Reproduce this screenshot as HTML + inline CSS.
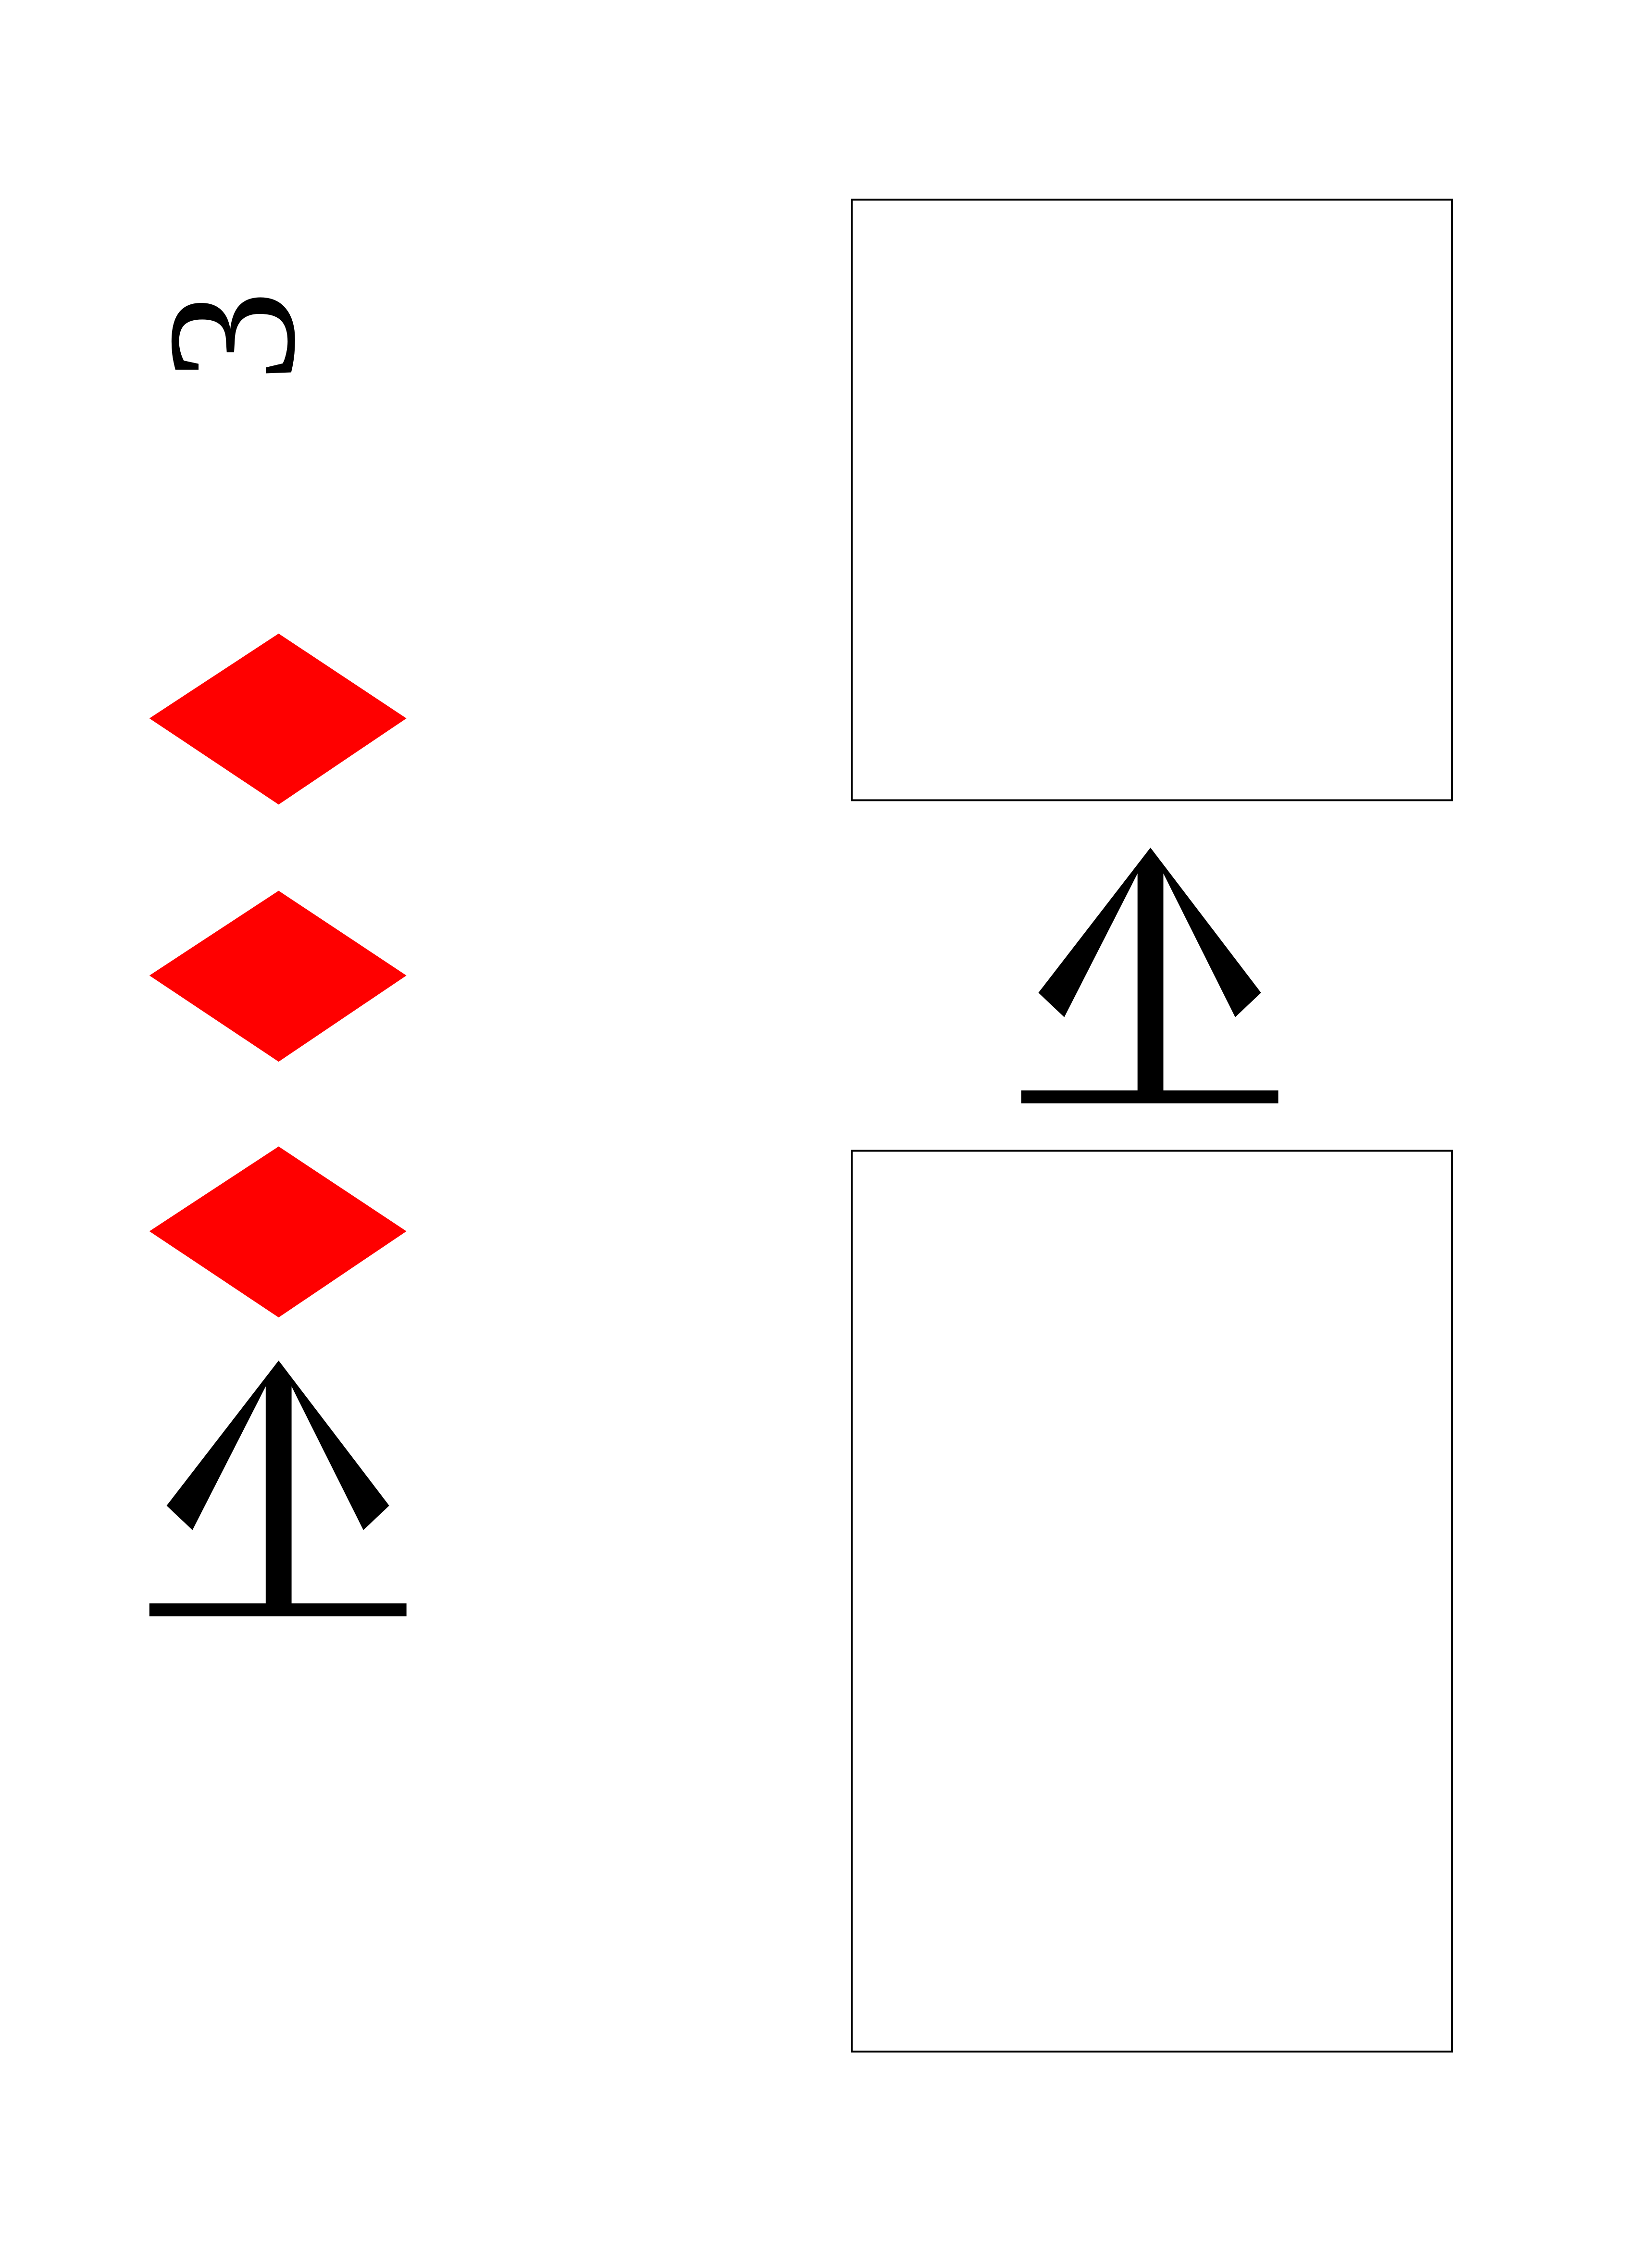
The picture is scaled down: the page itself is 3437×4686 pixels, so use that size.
<!DOCTYPE html>
<html><head><meta charset="utf-8"><style>
html,body{margin:0;padding:0;background:#fff;}
svg{display:block;}
</style></head><body>
<svg width="3437" height="4686" viewBox="0 0 1150.2 1568.2" preserveAspectRatio="none" xmlns="http://www.w3.org/2000/svg">
<rect x="0" y="0" width="1150.2" height="1568.2" fill="#fff"/>
<text x="0" y="0" transform="translate(161,234) rotate(-90)" text-anchor="middle" dominant-baseline="central" fill="#000" font-family="'Liberation Serif', 'DejaVu Serif', 'Noto Serif CJK SC', serif" font-size="128" style="font-family:'Liberation Serif','DejaVu Serif','Noto Serif CJK SC',serif;">3</text>
<g fill="#ff0000">
<polygon points="194,441 283,500 194,560 104,500"/>
<polygon points="194,620 283,679 194,739 104,679"/>
<polygon points="194,798 283,857 194,917 104,857"/>
</g>
<polygon fill="#000" points="194,947 271,1048 253,1065 203,965 203,1116 283,1116 283,1125 104,1125 104,1116 185,1116 185,965 134,1065 116,1048"/>
<polygon fill="#000" transform="translate(607,-357)" points="194,947 271,1048 253,1065 203,965 203,1116 283,1116 283,1125 104,1125 104,1116 185,1116 185,965 134,1065 116,1048"/>
<rect x="593" y="139" width="418" height="418" fill="none" stroke="#000" stroke-width="1.3"/>
<rect x="593" y="801" width="418" height="627" fill="none" stroke="#000" stroke-width="1.3"/>
</svg>
</body></html>
